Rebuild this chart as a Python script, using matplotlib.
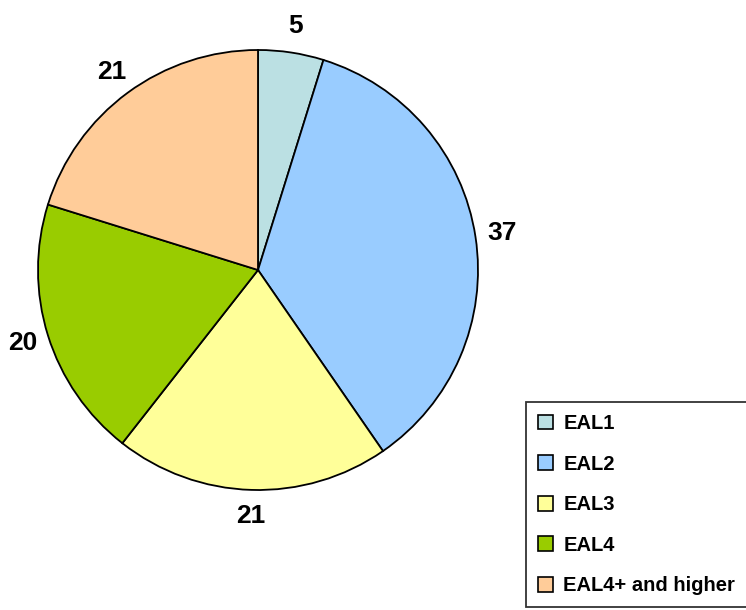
import matplotlib
matplotlib.use('Agg')
import matplotlib.pyplot as plt
from matplotlib.patches import Patch

labels = ['EAL1', 'EAL2', 'EAL3', 'EAL4', 'EAL4+ and higher']
values = [5, 37, 21, 20, 21]
colors = ['#BBE0E3', '#99CCFF', '#FFFF99', '#99CC00', '#FFCC99']

plt.rcParams['font.family'] = ['Liberation Sans', 'DejaVu Sans']

fig = plt.figure(figsize=(7.46, 6.10), dpi=100)
ax = fig.add_axes([38 / 746, 120 / 610, 440 / 746, 440 / 610])

wedges, texts = ax.pie(values, colors=colors, startangle=90, counterclock=False,
                       labels=[str(v) for v in values], labeldistance=1.12,
                       wedgeprops=dict(edgecolor='black', linewidth=1.3),
                       textprops=dict(fontsize=19, fontweight='bold'))
ax.set_aspect('equal')
ax.set_xlim(-1, 1)
ax.set_ylim(-1, 1)
for t in texts:
    t.set_clip_on(False)
    t.set_ha('center')
    t.set_va('center')

# legend box runs off the right/bottom edge like in the original
handles = [Patch(facecolor=c, edgecolor='black', linewidth=1.2) for c in colors]
leg = fig.legend(handles, labels, loc='upper left', bbox_to_anchor=(526 / 746, 1 - 402 / 610),
                 frameon=True, fancybox=False, edgecolor='black', handlelength=0.75,
                 handleheight=0.75, handletextpad=0.5, labelspacing=1.07,
                 borderpad=0.6, borderaxespad=0,
                 prop=dict(size=14.5, weight='bold'))
leg.get_frame().set_linewidth(1.3)

fig.savefig('out.png', dpi=100)
